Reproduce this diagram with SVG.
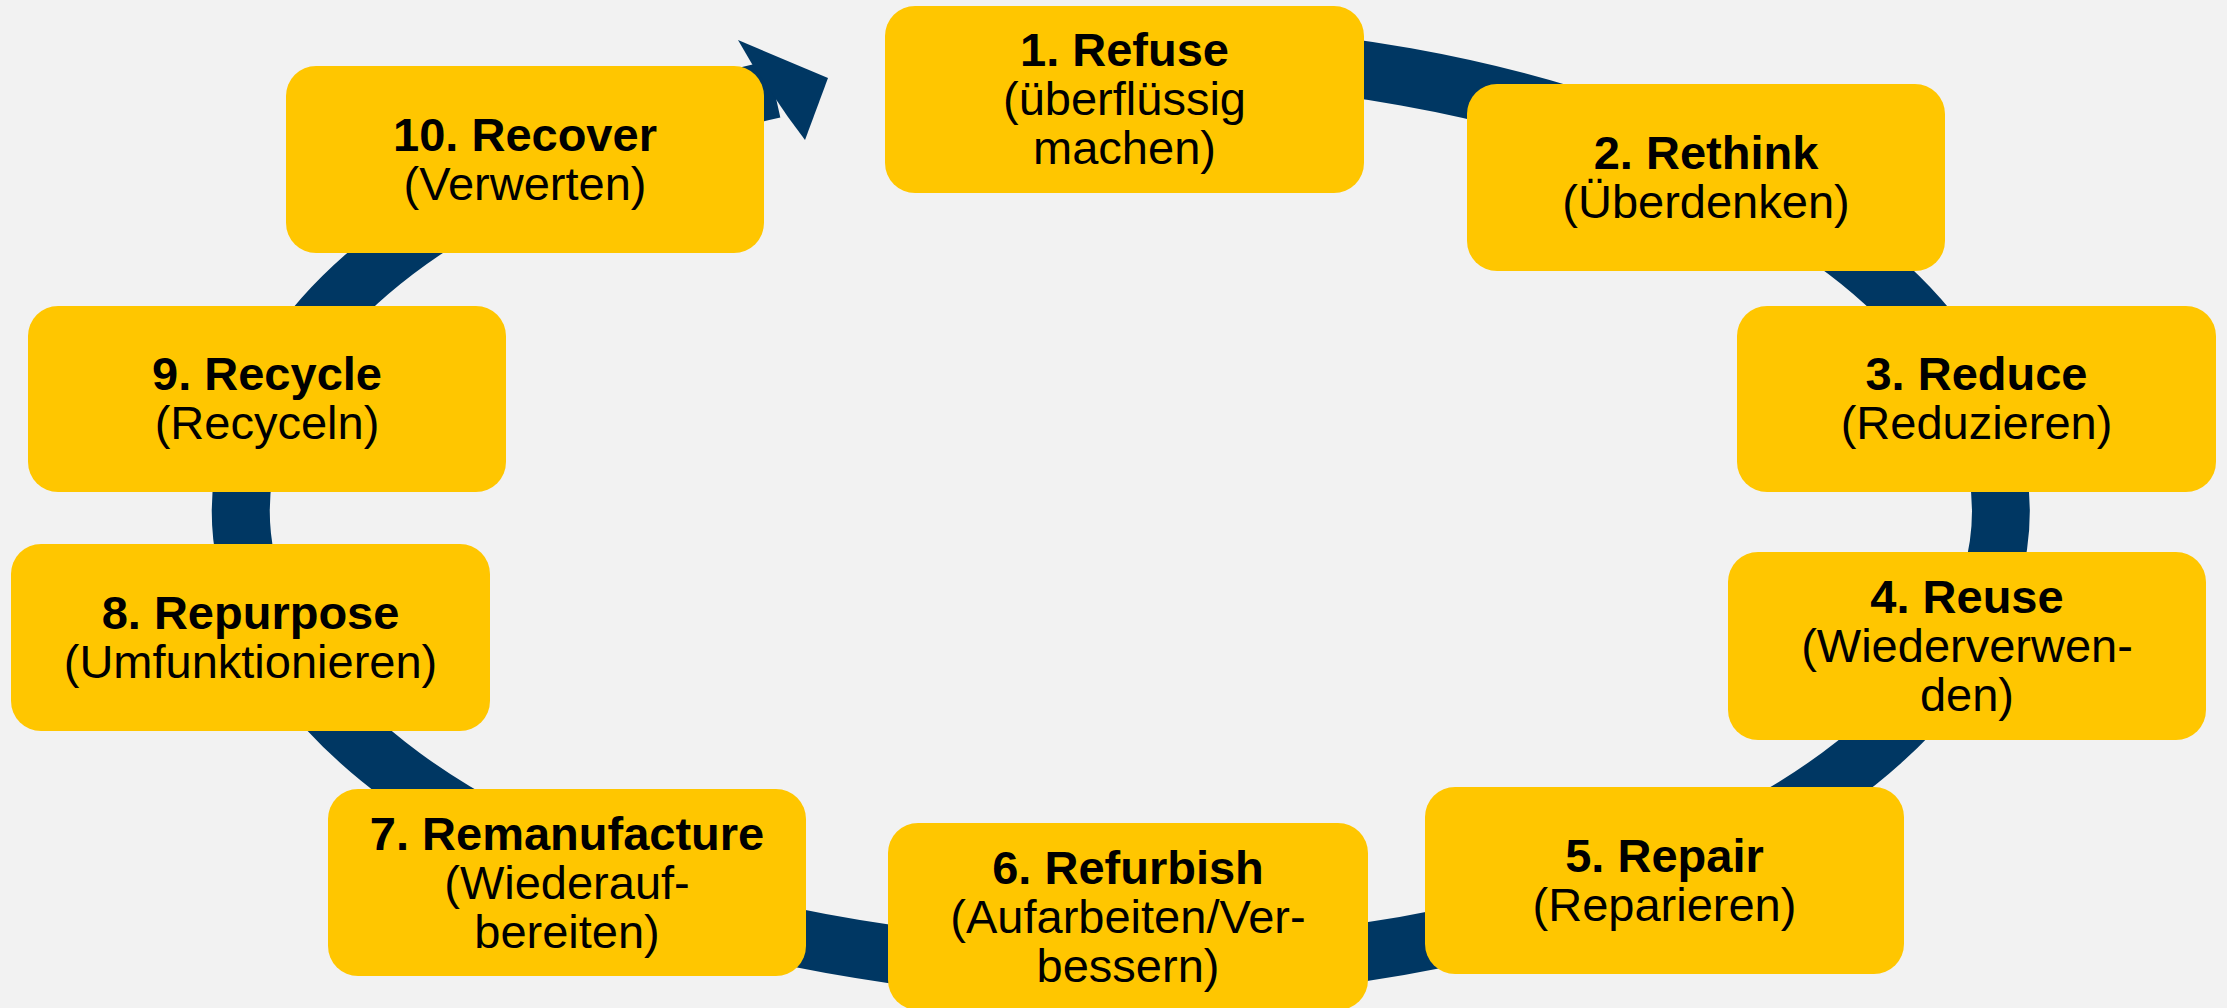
<svg xmlns="http://www.w3.org/2000/svg" width="2227" height="1008" viewBox="0 0 2227 1008">
  <style>
    .box { fill: #FFC600; }
    .t { font-family: "Liberation Sans", Arial, sans-serif; font-size: 47px; fill: #000; text-anchor: middle; }
    .b { font-weight: bold; }
    .ring { fill: none; stroke: #003763; stroke-width: 58; }
    .head { fill: #003763; }
  </style>
  <rect width="2227" height="1008" fill="#F2F2F2"/>

  <!-- circular flow arrow -->
  <g id="connectors">
    <path class="ring" d="M 1000 56.4 A 880 459 0 1 1 774 89.2"/>
    <polygon class="head" points="752,64 738,40 828,78 805,140 788,117"/>
  </g>

  <g id="n1">
    <rect class="box" x="885" y="6" width="479" height="187" rx="30"/>
    <text class="t b" x="1124.5" y="66">1. Refuse</text>
    <text class="t" x="1124.5" y="115">(überflüssig</text>
    <text class="t" x="1124.5" y="164">machen)</text>
  </g>
  <g id="n2">
    <rect class="box" x="1467" y="84" width="478" height="187" rx="30"/>
    <text class="t b" x="1706" y="168.5">2. Rethink</text>
    <text class="t" x="1706" y="217.5">(Überdenken)</text>
  </g>
  <g id="n3">
    <rect class="box" x="1737" y="306" width="479" height="186" rx="30"/>
    <text class="t b" x="1976.5" y="390">3. Reduce</text>
    <text class="t" x="1976.5" y="439">(Reduzieren)</text>
  </g>
  <g id="n4">
    <rect class="box" x="1728" y="552" width="478" height="188" rx="30"/>
    <text class="t b" x="1967" y="613">4. Reuse</text>
    <text class="t" x="1967" y="662">(Wiederverwen-</text>
    <text class="t" x="1967" y="711">den)</text>
  </g>
  <g id="n5">
    <rect class="box" x="1425" y="787" width="479" height="187" rx="30"/>
    <text class="t b" x="1664.5" y="871.5">5. Repair</text>
    <text class="t" x="1664.5" y="920.5">(Reparieren)</text>
  </g>
  <g id="n6">
    <rect class="box" x="888" y="823" width="480" height="187" rx="30"/>
    <text class="t b" x="1128" y="884">6. Refurbish</text>
    <text class="t" x="1128" y="933">(Aufarbeiten/Ver-</text>
    <text class="t" x="1128" y="982">bessern)</text>
  </g>
  <g id="n7">
    <rect class="box" x="328" y="789" width="478" height="187" rx="30"/>
    <text class="t b" x="567" y="849.5">7. Remanufacture</text>
    <text class="t" x="567" y="898.5">(Wiederauf-</text>
    <text class="t" x="567" y="947.5">bereiten)</text>
  </g>
  <g id="n8">
    <rect class="box" x="11" y="544" width="479" height="187" rx="30"/>
    <text class="t b" x="250.5" y="628.5">8. Repurpose</text>
    <text class="t" x="250.5" y="677.5">(Umfunktionieren)</text>
  </g>
  <g id="n9">
    <rect class="box" x="28" y="306" width="478" height="186" rx="30"/>
    <text class="t b" x="267" y="390">9. Recycle</text>
    <text class="t" x="267" y="439">(Recyceln)</text>
  </g>
  <g id="n10">
    <rect class="box" x="286" y="66" width="478" height="187" rx="30"/>
    <text class="t b" x="525" y="150.5">10. Recover</text>
    <text class="t" x="525" y="199.5">(Verwerten)</text>
  </g>
</svg>
